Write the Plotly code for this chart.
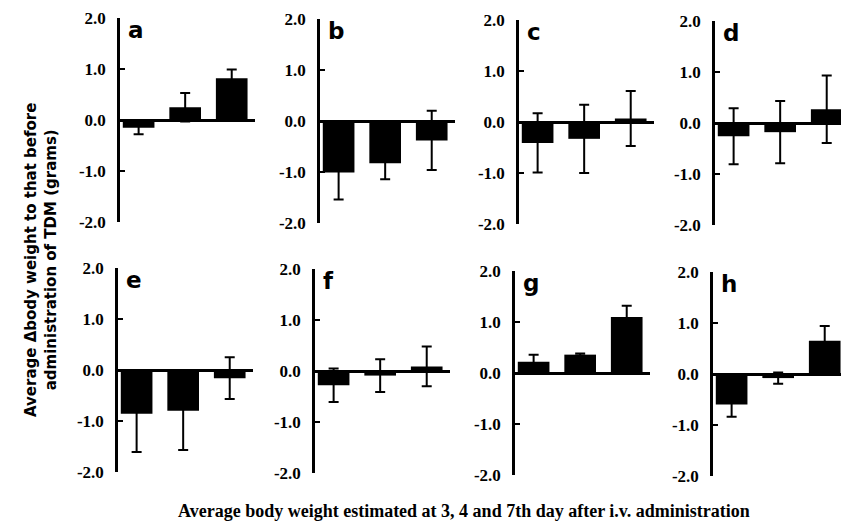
import plotly.graph_objects as go

# ---- data ----
panel_labels = ["a", "b", "c", "d", "e", "f", "g", "h"]
days = ["3", "4", "7"]
means = {
    "a": [-0.15, 0.25, 0.82],
    "b": [-1.01, -0.83, -0.38],
    "c": [-0.41, -0.33, 0.07],
    "d": [-0.26, -0.18, 0.27],
    "e": [-0.86, -0.80, -0.16],
    "f": [-0.28, -0.09, 0.09],
    "g": [0.22, 0.36, 1.10],
    "h": [-0.60, -0.08, 0.65],
}
errors = {
    "a": [0.13, 0.28, 0.17],
    "b": [0.53, 0.31, 0.58],
    "c": [0.58, 0.67, 0.54],
    "d": [0.55, 0.61, 0.66],
    "e": [0.75, 0.77, 0.41],
    "f": [0.33, 0.32, 0.39],
    "g": [0.14, 0.02, 0.22],
    "h": [0.24, 0.11, 0.29],
}
y_tickvals = [-2, -1, 0, 1, 2]
y_ticktext = ["-2.0", "-1.0", "0.0", "1.0", "2.0"]
y_title = "Average \u0394body weight to that before<br>administration of TDM (grams)"
x_title = "Average body weight estimated at 3, 4 and 7th day after i.v. administration"

# ---- layout geometry (pixels) ----
W, H = 841, 526
axis_left = {"a": 120, "b": 320, "c": 519, "d": 715, "e": 118, "f": 315, "g": 515, "h": 713}
axis_top = {"a": 18, "b": 19, "c": 20, "d": 21, "e": 268, "f": 269, "g": 271, "h": 272}
panel_h = 204
px_per_unit = 46.55
x_lo = -0.40
full_w = 135

fig = go.Figure()
layout = dict(
    width=W, height=H,
    margin=dict(l=0, r=0, t=0, b=0, autoexpand=False),
    paper_bgcolor="white", plot_bgcolor="white",
    showlegend=False,
    annotations=[],
)

for i, lab in enumerate(panel_labels):
    n = "" if i == 0 else str(i + 1)
    xa, ya = "x" + n, "y" + n
    left = axis_left[lab]
    right = min(left + full_w, W)
    x_hi = x_lo + (right - left) / px_per_unit
    top = axis_top[lab]
    bottom = top + panel_h

    fig.add_trace(go.Bar(
        x=[0, 1, 2], y=means[lab],
        width=0.68,
        marker=dict(color="black", line=dict(width=0)),
        error_y=dict(type="data", array=errors[lab], visible=True,
                     color="black", thickness=2, width=5),
        xaxis=xa, yaxis=ya,
        hovertext=days,
    ))

    layout["xaxis" + n] = dict(
        domain=[left / W, right / W],
        range=[x_lo, x_hi],
        visible=False,
        anchor=ya,
        automargin=False,
    )
    layout["yaxis" + n] = dict(
        domain=[1 - bottom / H, 1 - top / H],
        range=[-2, 2],
        anchor=xa,
        automargin=False,
        showgrid=False,
        showline=True, linecolor="black", linewidth=2.5,
        zeroline=True, zerolinecolor="black", zerolinewidth=2.5,
        ticks="inside", ticklen=5, tickwidth=2, tickcolor="black",
        tickvals=y_tickvals, ticktext=y_ticktext,
        ticklabelstandoff=8,
        tickfont=dict(family="Liberation Serif", size=17, color="black", weight="bold"),
    )
    layout["annotations"].append(dict(
        text=lab, xref="paper", yref="paper",
        x=(left + 6) / W, y=1 - (top - 3) / H,
        xanchor="left", yanchor="top", showarrow=False,
        font=dict(family="DejaVu Sans", size=23, color="black", weight="bold"),
    ))

layout["annotations"].append(dict(
    text=y_title, xref="paper", yref="paper",
    x=41 / W, y=1 - 260 / H, xanchor="center", yanchor="middle",
    textangle=-90, showarrow=False,
    font=dict(family="DejaVu Sans", size=15, color="black", weight="bold"),
))
layout["annotations"].append(dict(
    text=x_title, xref="paper", yref="paper",
    x=464 / W, y=1 - 511 / H, xanchor="center", yanchor="middle",
    showarrow=False,
    font=dict(family="Liberation Serif", size=18, color="black", weight="bold"),
))

fig.update_layout(**layout)
fig.write_html("out.html",
               config={"displayModeBar": False},
               post_script="document.body.style.margin='0px';document.body.style.overflow='hidden';")
